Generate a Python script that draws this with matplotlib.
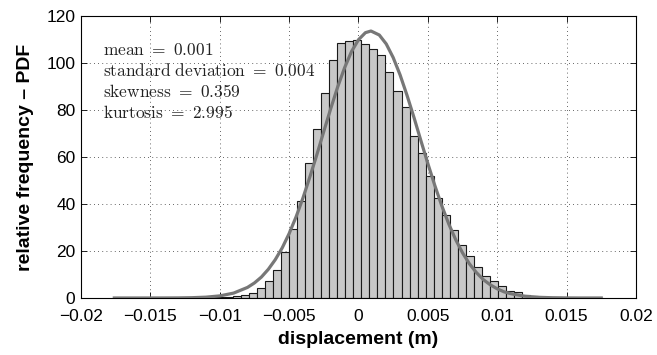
# histogram of displacement with fitted PDF curve
import numpy as np
import matplotlib
matplotlib.use('Agg')
import matplotlib.pyplot as plt

# Histogram data (relative frequency, 60 bins)
bin_start = -0.0172
bin_width = 0.00058
bar_heights = [0.05, 0.05, 0.05, 0.05, 0.05, 0.1, 0.1, 0.1, 0.15, 0.2,
               0.25, 0.3, 0.4, 0.5, 0.7, 1.3, 2.2, 4.1, 7.1, 12.0,
               19.6, 29.4, 41.4, 57.4, 71.7, 87.4, 101.2, 108.6, 109.5, 109.6,
               108.1, 105.9, 103.5, 96.3, 88.0, 81.1, 68.8, 61.6, 52.1, 42.6,
               35.4, 29.1, 22.7, 17.8, 13.2, 9.5, 7.4, 5.3, 3.1, 2.5,
               1.4, 0.8, 0.5, 0.35, 0.25, 0.2, 0.12, 0.08, 0.05, 0.05]

# PDF curve
curve_x = [-0.0176, -0.016, -0.015, -0.014, -0.013, -0.012, -0.011, -0.010, -0.009,
           -0.008, -0.0075, -0.007, -0.0065, -0.006, -0.0055, -0.005, -0.0045,
           -0.004, -0.0035, -0.003, -0.0025, -0.002, -0.0015, -0.001, -0.0005,
           0.0, 0.0005, 0.0009, 0.0015, 0.002, 0.0025, 0.003, 0.0035, 0.004,
           0.0045, 0.005, 0.0055, 0.006, 0.0065, 0.007, 0.0075, 0.008, 0.0085,
           0.009, 0.0095, 0.010, 0.0105, 0.011, 0.012, 0.013, 0.014, 0.015,
           0.016, 0.0175]
curve_y = [0.0, 0.0, 0.004, 0.013, 0.04, 0.13, 0.35, 0.89, 2.08,
           4.5, 6.4, 8.9, 12.2, 16.3, 21.3, 27.4, 34.5,
           42.6, 51.6, 61.0, 70.9, 80.6, 89.8, 98.0, 104.9,
           109.9, 112.9, 113.6, 111.9, 108.1, 102.3, 94.9, 86.2, 76.8,
           66.9, 57.2, 47.9, 39.3, 31.6, 24.9, 19.2, 14.5, 10.8,
           7.8, 5.6, 3.9, 2.6, 1.8, 0.74, 0.29, 0.1, 0.03,
           0.0, 0.0]

stats_lines = [r'$\mathrm{mean}\ =\ 0.001$',
               r'$\mathrm{standard\ deviation}\ =\ 0.004$',
               r'$\mathrm{skewness}\ =\ 0.359$',
               r'$\mathrm{kurtosis}\ =\ 2.995$']

xticks = [-0.02, -0.015, -0.01, -0.005, 0, 0.005, 0.01, 0.015, 0.02]
xtick_labels = ['\u22120.02', '\u22120.015', '\u22120.01', '\u22120.005', '0',
                '0.005', '0.01', '0.015', '0.02']
yticks = [0, 20, 40, 60, 80, 100, 120]

plt.rcParams['font.family'] = ['Liberation Sans', 'DejaVu Sans']
plt.rcParams['mathtext.fontset'] = 'cm'

fig = plt.figure(figsize=(6.57, 3.55), dpi=100)
ax = fig.add_axes([0.1233, 0.1606, 0.8447, 0.7944])

lefts = bin_start + bin_width * np.arange(len(bar_heights))
ax.bar(lefts, bar_heights, width=bin_width, align='edge',
       color='#c8c8c8', edgecolor='#1a1a1a', linewidth=0.8, zorder=2)
ax.plot(curve_x, curve_y, color='#777777', linewidth=2.3, zorder=3)

ax.set_xlim(-0.02, 0.02)
ax.set_ylim(0, 120)
ax.set_xticks(xticks)
ax.set_xticklabels(xtick_labels)
ax.set_yticks(yticks)
ax.tick_params(direction='in', top=True, right=True, length=4, width=0.6,
               labelsize=12.5)
ax.tick_params(axis='x', pad=8)
ax.tick_params(axis='y', pad=4)
ax.grid(True, color='#333333', linestyle=(0, (1, 4)), linewidth=0.6, zorder=0)
ax.set_axisbelow(True)
for s in ax.spines.values():
    s.set_linewidth(0.8)

ax.set_xlabel('displacement (m)', fontsize=14, fontweight='bold', labelpad=5)
ax.set_ylabel('relative frequency \u2013 PDF', fontsize=14, fontweight='bold', labelpad=9)

for i, line in enumerate(stats_lines):
    ax.text(0.04, 0.88 - i * 0.0744, line, transform=ax.transAxes,
            fontsize=12.5, color='#222222', va='center', ha='left', zorder=4)

fig.savefig('out.png', dpi=100)
